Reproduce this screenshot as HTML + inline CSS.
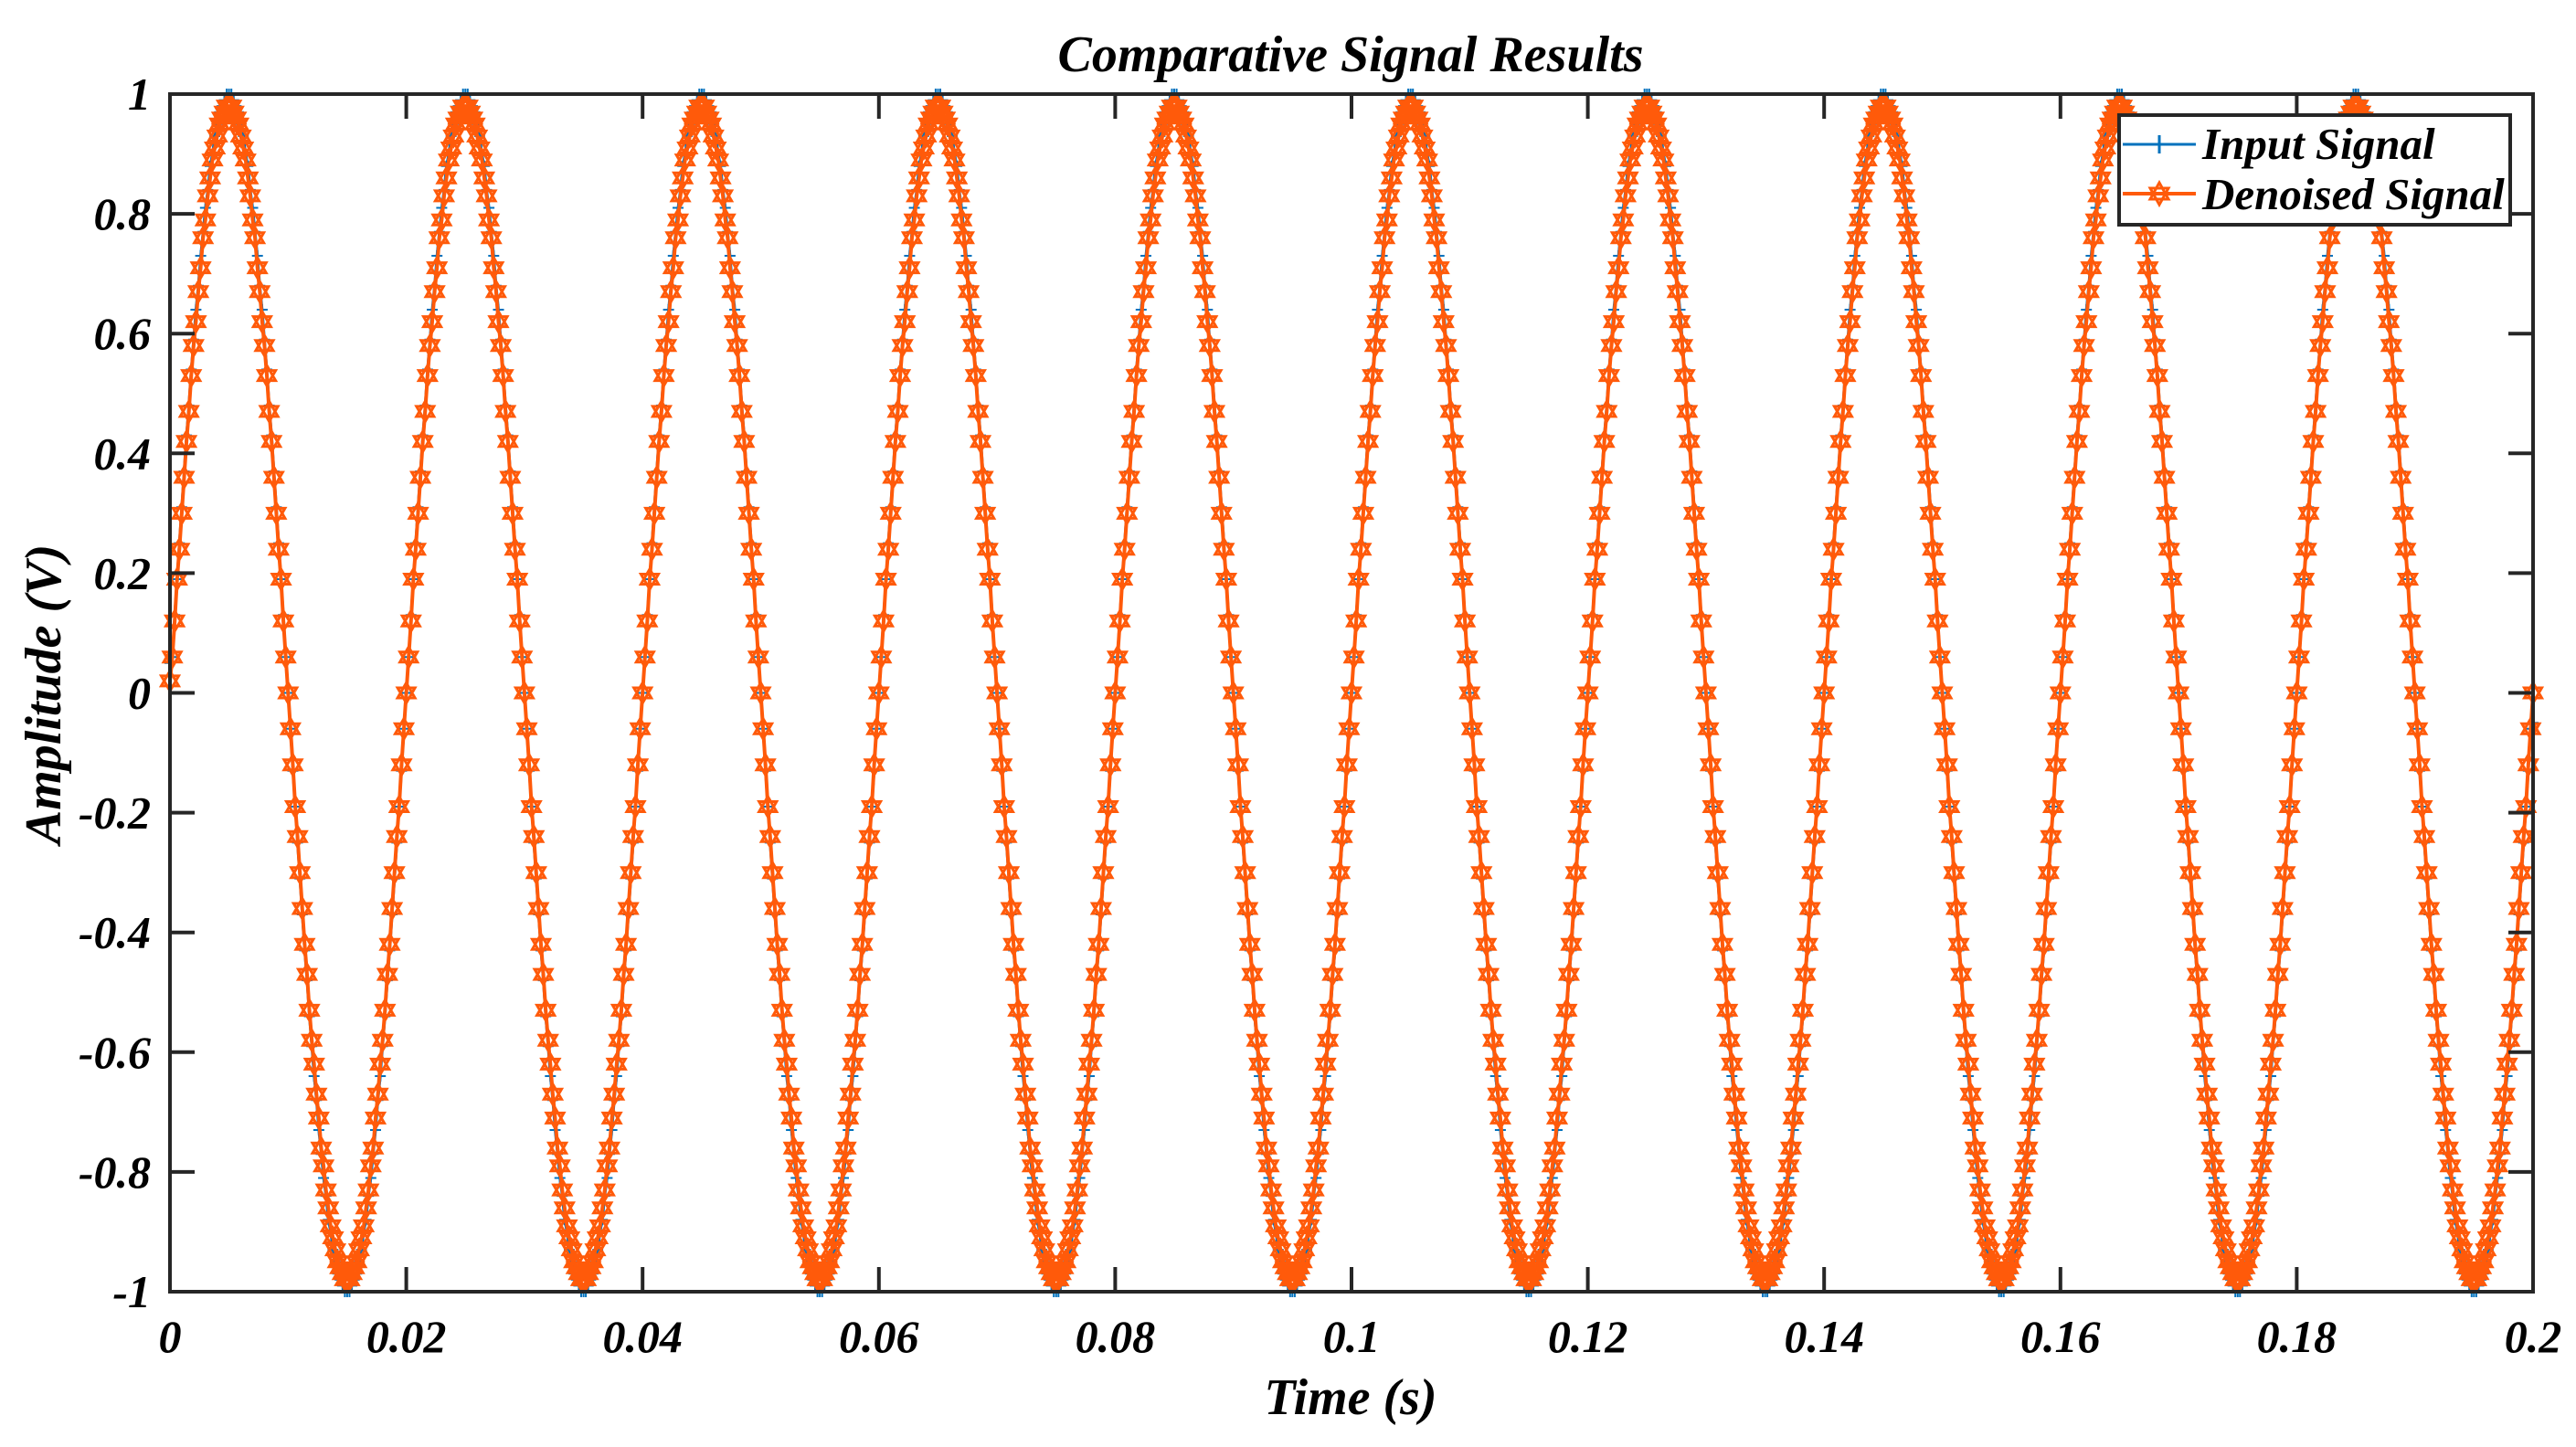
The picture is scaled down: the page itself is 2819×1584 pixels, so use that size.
<!DOCTYPE html>
<html><head><meta charset="utf-8"><style>
html,body{margin:0;padding:0;background:#fff;}
svg{display:block;}
text{font-family:"Liberation Serif",serif;font-weight:bold;font-style:italic;fill:#000;}
</style></head><body>
<svg id="chart" width="2819" height="1584" viewBox="0 0 2819 1584">
<rect width="2819" height="1584" fill="#fff"/>
<text x="1478" y="78" font-size="56" text-anchor="middle">Comparative Signal Results</text>
<text x="1478" y="1548" font-size="56" text-anchor="middle">Time (s)</text>
<text transform="translate(66,760) rotate(-90)" font-size="56" text-anchor="middle">Amplitude (V)</text>
<g id="plot"></g>
<g id="axes"></g>
<g id="legend">
<rect x="2319" y="126" width="428" height="120" fill="#fff" stroke="#262626" stroke-width="4"/>
<g>
<line x1="2323" y1="158" x2="2403" y2="158" stroke="#0072BD" stroke-width="3"/>
<line x1="2363" y1="148" x2="2363" y2="168" stroke="#0072BD" stroke-width="3"/>
<text x="2410" y="174" font-size="49">Input Signal</text>
</g>
<g>
<line x1="2323" y1="212" x2="2403" y2="212" stroke="#FF5A0A" stroke-width="4"/>
<path d="M2363,200 L2373,218 L2353,218 Z M2363,224 L2373,206 L2353,206 Z" fill="none" stroke="#FF5A0A" stroke-width="3"/>
<text x="2410" y="229" font-size="49">Denoised Signal</text>
</g>
</g>
</svg>
<script>
const xTicks=[0,0.02,0.04,0.06,0.08,0.1,0.12,0.14,0.16,0.18,0.2];
const xTickLabels=["0","0.02","0.04","0.06","0.08","0.1","0.12","0.14","0.16","0.18","0.2"];
const yTicks=[-1,-0.8,-0.6,-0.4,-0.2,0,0.2,0.4,0.6,0.8,1];
const yTickLabels=["-1","-0.8","-0.6","-0.4","-0.2","0","0.2","0.4","0.6","0.8","1"];
const sampleStep=0.0002;
const inputSignal=[0.05,
.06,.13,.19,.25,.31,.37,.43,.48,.54,.59,.64,.68,.73,.77,.81,.84,.88,.9,.93,.95,.97,.98,.99,1,1,1,.99,.98,.97,.95,.93,.9,.88,.84,.81,.77,.73,.68,.64,.59,.54,.48,.43,.37,.31,.25,.19,.13,.06,0,-.06,-.13,-.19,-.25,-.31,-.37,-.43,-.48,-.54,-.59,-.64,-.68,-.73,-.77,-.81,-.84,-.88,-.9,-.93,-.95,-.97,-.98,-.99,-1,-1,-1,-.99,-.98,-.97,-.95,-.93,-.9,-.88,-.84,-.81,-.77,-.73,-.68,-.64,-.59,-.54,-.48,-.43,-.37,-.31,-.25,-.19,-.13,-.06,0,
.06,.13,.19,.25,.31,.37,.43,.48,.54,.59,.64,.68,.73,.77,.81,.84,.88,.9,.93,.95,.97,.98,.99,1,1,1,.99,.98,.97,.95,.93,.9,.88,.84,.81,.77,.73,.68,.64,.59,.54,.48,.43,.37,.31,.25,.19,.13,.06,0,-.06,-.13,-.19,-.25,-.31,-.37,-.43,-.48,-.54,-.59,-.64,-.68,-.73,-.77,-.81,-.84,-.88,-.9,-.93,-.95,-.97,-.98,-.99,-1,-1,-1,-.99,-.98,-.97,-.95,-.93,-.9,-.88,-.84,-.81,-.77,-.73,-.68,-.64,-.59,-.54,-.48,-.43,-.37,-.31,-.25,-.19,-.13,-.06,0,
.06,.13,.19,.25,.31,.37,.43,.48,.54,.59,.64,.68,.73,.77,.81,.84,.88,.9,.93,.95,.97,.98,.99,1,1,1,.99,.98,.97,.95,.93,.9,.88,.84,.81,.77,.73,.68,.64,.59,.54,.48,.43,.37,.31,.25,.19,.13,.06,0,-.06,-.13,-.19,-.25,-.31,-.37,-.43,-.48,-.54,-.59,-.64,-.68,-.73,-.77,-.81,-.84,-.88,-.9,-.93,-.95,-.97,-.98,-.99,-1,-1,-1,-.99,-.98,-.97,-.95,-.93,-.9,-.88,-.84,-.81,-.77,-.73,-.68,-.64,-.59,-.54,-.48,-.43,-.37,-.31,-.25,-.19,-.13,-.06,0,
.06,.13,.19,.25,.31,.37,.43,.48,.54,.59,.64,.68,.73,.77,.81,.84,.88,.9,.93,.95,.97,.98,.99,1,1,1,.99,.98,.97,.95,.93,.9,.88,.84,.81,.77,.73,.68,.64,.59,.54,.48,.43,.37,.31,.25,.19,.13,.06,0,-.06,-.13,-.19,-.25,-.31,-.37,-.43,-.48,-.54,-.59,-.64,-.68,-.73,-.77,-.81,-.84,-.88,-.9,-.93,-.95,-.97,-.98,-.99,-1,-1,-1,-.99,-.98,-.97,-.95,-.93,-.9,-.88,-.84,-.81,-.77,-.73,-.68,-.64,-.59,-.54,-.48,-.43,-.37,-.31,-.25,-.19,-.13,-.06,0,
.06,.13,.19,.25,.31,.37,.43,.48,.54,.59,.64,.68,.73,.77,.81,.84,.88,.9,.93,.95,.97,.98,.99,1,1,1,.99,.98,.97,.95,.93,.9,.88,.84,.81,.77,.73,.68,.64,.59,.54,.48,.43,.37,.31,.25,.19,.13,.06,0,-.06,-.13,-.19,-.25,-.31,-.37,-.43,-.48,-.54,-.59,-.64,-.68,-.73,-.77,-.81,-.84,-.88,-.9,-.93,-.95,-.97,-.98,-.99,-1,-1,-1,-.99,-.98,-.97,-.95,-.93,-.9,-.88,-.84,-.81,-.77,-.73,-.68,-.64,-.59,-.54,-.48,-.43,-.37,-.31,-.25,-.19,-.13,-.06,0,
.06,.13,.19,.25,.31,.37,.43,.48,.54,.59,.64,.68,.73,.77,.81,.84,.88,.9,.93,.95,.97,.98,.99,1,1,1,.99,.98,.97,.95,.93,.9,.88,.84,.81,.77,.73,.68,.64,.59,.54,.48,.43,.37,.31,.25,.19,.13,.06,0,-.06,-.13,-.19,-.25,-.31,-.37,-.43,-.48,-.54,-.59,-.64,-.68,-.73,-.77,-.81,-.84,-.88,-.9,-.93,-.95,-.97,-.98,-.99,-1,-1,-1,-.99,-.98,-.97,-.95,-.93,-.9,-.88,-.84,-.81,-.77,-.73,-.68,-.64,-.59,-.54,-.48,-.43,-.37,-.31,-.25,-.19,-.13,-.06,0,
.06,.13,.19,.25,.31,.37,.43,.48,.54,.59,.64,.68,.73,.77,.81,.84,.88,.9,.93,.95,.97,.98,.99,1,1,1,.99,.98,.97,.95,.93,.9,.88,.84,.81,.77,.73,.68,.64,.59,.54,.48,.43,.37,.31,.25,.19,.13,.06,0,-.06,-.13,-.19,-.25,-.31,-.37,-.43,-.48,-.54,-.59,-.64,-.68,-.73,-.77,-.81,-.84,-.88,-.9,-.93,-.95,-.97,-.98,-.99,-1,-1,-1,-.99,-.98,-.97,-.95,-.93,-.9,-.88,-.84,-.81,-.77,-.73,-.68,-.64,-.59,-.54,-.48,-.43,-.37,-.31,-.25,-.19,-.13,-.06,0,
.06,.13,.19,.25,.31,.37,.43,.48,.54,.59,.64,.68,.73,.77,.81,.84,.88,.9,.93,.95,.97,.98,.99,1,1,1,.99,.98,.97,.95,.93,.9,.88,.84,.81,.77,.73,.68,.64,.59,.54,.48,.43,.37,.31,.25,.19,.13,.06,0,-.06,-.13,-.19,-.25,-.31,-.37,-.43,-.48,-.54,-.59,-.64,-.68,-.73,-.77,-.81,-.84,-.88,-.9,-.93,-.95,-.97,-.98,-.99,-1,-1,-1,-.99,-.98,-.97,-.95,-.93,-.9,-.88,-.84,-.81,-.77,-.73,-.68,-.64,-.59,-.54,-.48,-.43,-.37,-.31,-.25,-.19,-.13,-.06,0,
.06,.13,.19,.25,.31,.37,.43,.48,.54,.59,.64,.68,.73,.77,.81,.84,.88,.9,.93,.95,.97,.98,.99,1,1,1,.99,.98,.97,.95,.93,.9,.88,.84,.81,.77,.73,.68,.64,.59,.54,.48,.43,.37,.31,.25,.19,.13,.06,0,-.06,-.13,-.19,-.25,-.31,-.37,-.43,-.48,-.54,-.59,-.64,-.68,-.73,-.77,-.81,-.84,-.88,-.9,-.93,-.95,-.97,-.98,-.99,-1,-1,-1,-.99,-.98,-.97,-.95,-.93,-.9,-.88,-.84,-.81,-.77,-.73,-.68,-.64,-.59,-.54,-.48,-.43,-.37,-.31,-.25,-.19,-.13,-.06,0,
.06,.13,.19,.25,.31,.37,.43,.48,.54,.59,.64,.68,.73,.77,.81,.84,.88,.9,.93,.95,.97,.98,.99,1,1,1,.99,.98,.97,.95,.93,.9,.88,.84,.81,.77,.73,.68,.64,.59,.54,.48,.43,.37,.31,.25,.19,.13,.06,0,-.06,-.13,-.19,-.25,-.31,-.37,-.43,-.48,-.54,-.59,-.64,-.68,-.73,-.77,-.81,-.84,-.88,-.9,-.93,-.95,-.97,-.98,-.99,-1,-1,-1,-.99,-.98,-.97,-.95,-.93,-.9,-.88,-.84,-.81,-.77,-.73,-.68,-.64,-.59,-.54,-.48,-.43,-.37,-.31,-.25,-.19,-.13,-.06,-.05];
const denoisedSignal=[0.02,
.06,.12,.19,.24,.3,.36,.42,.47,.53,.58,.62,.67,.71,.76,.79,.83,.86,.89,.91,.93,.95,.96,.97,.98,.98,.98,.97,.96,.95,.93,.91,.89,.86,.83,.79,.76,.71,.67,.62,.58,.53,.47,.42,.36,.3,.24,.19,.12,.06,0,-.06,-.12,-.19,-.24,-.3,-.36,-.42,-.47,-.53,-.58,-.62,-.67,-.71,-.76,-.79,-.83,-.86,-.89,-.91,-.93,-.95,-.96,-.97,-.98,-.98,-.98,-.97,-.96,-.95,-.93,-.91,-.89,-.86,-.83,-.79,-.76,-.71,-.67,-.62,-.58,-.53,-.47,-.42,-.36,-.3,-.24,-.19,-.12,-.06,0,
.06,.12,.19,.24,.3,.36,.42,.47,.53,.58,.62,.67,.71,.76,.79,.83,.86,.89,.91,.93,.95,.96,.97,.98,.98,.98,.97,.96,.95,.93,.91,.89,.86,.83,.79,.76,.71,.67,.62,.58,.53,.47,.42,.36,.3,.24,.19,.12,.06,0,-.06,-.12,-.19,-.24,-.3,-.36,-.42,-.47,-.53,-.58,-.62,-.67,-.71,-.76,-.79,-.83,-.86,-.89,-.91,-.93,-.95,-.96,-.97,-.98,-.98,-.98,-.97,-.96,-.95,-.93,-.91,-.89,-.86,-.83,-.79,-.76,-.71,-.67,-.62,-.58,-.53,-.47,-.42,-.36,-.3,-.24,-.19,-.12,-.06,0,
.06,.12,.19,.24,.3,.36,.42,.47,.53,.58,.62,.67,.71,.76,.79,.83,.86,.89,.91,.93,.95,.96,.97,.98,.98,.98,.97,.96,.95,.93,.91,.89,.86,.83,.79,.76,.71,.67,.62,.58,.53,.47,.42,.36,.3,.24,.19,.12,.06,0,-.06,-.12,-.19,-.24,-.3,-.36,-.42,-.47,-.53,-.58,-.62,-.67,-.71,-.76,-.79,-.83,-.86,-.89,-.91,-.93,-.95,-.96,-.97,-.98,-.98,-.98,-.97,-.96,-.95,-.93,-.91,-.89,-.86,-.83,-.79,-.76,-.71,-.67,-.62,-.58,-.53,-.47,-.42,-.36,-.3,-.24,-.19,-.12,-.06,0,
.06,.12,.19,.24,.3,.36,.42,.47,.53,.58,.62,.67,.71,.76,.79,.83,.86,.89,.91,.93,.95,.96,.97,.98,.98,.98,.97,.96,.95,.93,.91,.89,.86,.83,.79,.76,.71,.67,.62,.58,.53,.47,.42,.36,.3,.24,.19,.12,.06,0,-.06,-.12,-.19,-.24,-.3,-.36,-.42,-.47,-.53,-.58,-.62,-.67,-.71,-.76,-.79,-.83,-.86,-.89,-.91,-.93,-.95,-.96,-.97,-.98,-.98,-.98,-.97,-.96,-.95,-.93,-.91,-.89,-.86,-.83,-.79,-.76,-.71,-.67,-.62,-.58,-.53,-.47,-.42,-.36,-.3,-.24,-.19,-.12,-.06,0,
.06,.12,.19,.24,.3,.36,.42,.47,.53,.58,.62,.67,.71,.76,.79,.83,.86,.89,.91,.93,.95,.96,.97,.98,.98,.98,.97,.96,.95,.93,.91,.89,.86,.83,.79,.76,.71,.67,.62,.58,.53,.47,.42,.36,.3,.24,.19,.12,.06,0,-.06,-.12,-.19,-.24,-.3,-.36,-.42,-.47,-.53,-.58,-.62,-.67,-.71,-.76,-.79,-.83,-.86,-.89,-.91,-.93,-.95,-.96,-.97,-.98,-.98,-.98,-.97,-.96,-.95,-.93,-.91,-.89,-.86,-.83,-.79,-.76,-.71,-.67,-.62,-.58,-.53,-.47,-.42,-.36,-.3,-.24,-.19,-.12,-.06,0,
.06,.12,.19,.24,.3,.36,.42,.47,.53,.58,.62,.67,.71,.76,.79,.83,.86,.89,.91,.93,.95,.96,.97,.98,.98,.98,.97,.96,.95,.93,.91,.89,.86,.83,.79,.76,.71,.67,.62,.58,.53,.47,.42,.36,.3,.24,.19,.12,.06,0,-.06,-.12,-.19,-.24,-.3,-.36,-.42,-.47,-.53,-.58,-.62,-.67,-.71,-.76,-.79,-.83,-.86,-.89,-.91,-.93,-.95,-.96,-.97,-.98,-.98,-.98,-.97,-.96,-.95,-.93,-.91,-.89,-.86,-.83,-.79,-.76,-.71,-.67,-.62,-.58,-.53,-.47,-.42,-.36,-.3,-.24,-.19,-.12,-.06,0,
.06,.12,.19,.24,.3,.36,.42,.47,.53,.58,.62,.67,.71,.76,.79,.83,.86,.89,.91,.93,.95,.96,.97,.98,.98,.98,.97,.96,.95,.93,.91,.89,.86,.83,.79,.76,.71,.67,.62,.58,.53,.47,.42,.36,.3,.24,.19,.12,.06,0,-.06,-.12,-.19,-.24,-.3,-.36,-.42,-.47,-.53,-.58,-.62,-.67,-.71,-.76,-.79,-.83,-.86,-.89,-.91,-.93,-.95,-.96,-.97,-.98,-.98,-.98,-.97,-.96,-.95,-.93,-.91,-.89,-.86,-.83,-.79,-.76,-.71,-.67,-.62,-.58,-.53,-.47,-.42,-.36,-.3,-.24,-.19,-.12,-.06,0,
.06,.12,.19,.24,.3,.36,.42,.47,.53,.58,.62,.67,.71,.76,.79,.83,.86,.89,.91,.93,.95,.96,.97,.98,.98,.98,.97,.96,.95,.93,.91,.89,.86,.83,.79,.76,.71,.67,.62,.58,.53,.47,.42,.36,.3,.24,.19,.12,.06,0,-.06,-.12,-.19,-.24,-.3,-.36,-.42,-.47,-.53,-.58,-.62,-.67,-.71,-.76,-.79,-.83,-.86,-.89,-.91,-.93,-.95,-.96,-.97,-.98,-.98,-.98,-.97,-.96,-.95,-.93,-.91,-.89,-.86,-.83,-.79,-.76,-.71,-.67,-.62,-.58,-.53,-.47,-.42,-.36,-.3,-.24,-.19,-.12,-.06,0,
.06,.12,.19,.24,.3,.36,.42,.47,.53,.58,.62,.67,.71,.76,.79,.83,.86,.89,.91,.93,.95,.96,.97,.98,.98,.98,.97,.96,.95,.93,.91,.89,.86,.83,.79,.76,.71,.67,.62,.58,.53,.47,.42,.36,.3,.24,.19,.12,.06,0,-.06,-.12,-.19,-.24,-.3,-.36,-.42,-.47,-.53,-.58,-.62,-.67,-.71,-.76,-.79,-.83,-.86,-.89,-.91,-.93,-.95,-.96,-.97,-.98,-.98,-.98,-.97,-.96,-.95,-.93,-.91,-.89,-.86,-.83,-.79,-.76,-.71,-.67,-.62,-.58,-.53,-.47,-.42,-.36,-.3,-.24,-.19,-.12,-.06,0,
.06,.12,.19,.24,.3,.36,.42,.47,.53,.58,.62,.67,.71,.76,.79,.83,.86,.89,.91,.93,.95,.96,.97,.98,.98,.98,.97,.96,.95,.93,.91,.89,.86,.83,.79,.76,.71,.67,.62,.58,.53,.47,.42,.36,.3,.24,.19,.12,.06,0,-.06,-.12,-.19,-.24,-.3,-.36,-.42,-.47,-.53,-.58,-.62,-.67,-.71,-.76,-.79,-.83,-.86,-.89,-.91,-.93,-.95,-.96,-.97,-.98,-.98,-.98,-.97,-.96,-.95,-.93,-.91,-.89,-.86,-.83,-.79,-.76,-.71,-.67,-.62,-.58,-.53,-.47,-.42,-.36,-.3,-.24,-.19,-.12,-.06,0];

const NS="http://www.w3.org/2000/svg";
const L=186,R=2772,T=103,B=1414;
const X0=0,X1=0.2,Y0=-1,Y1=1;
function xs(v){return L+(v-X0)/(X1-X0)*(R-L);}
function ys(v){return B-(v-Y0)/(Y1-Y0)*(B-T);}
function mk(tag,attrs,parent){const e=document.createElementNS(NS,tag);for(const k in attrs)e.setAttribute(k,attrs[k]);parent.appendChild(e);return e;}
const plot=document.getElementById('plot');
const axes=document.getElementById('axes');

let d='';
inputSignal.forEach((v,i)=>{d+=(i?'L':'M')+xs(i*sampleStep).toFixed(1)+','+ys(v).toFixed(1);});
const inLine=mk('path',{d:d,fill:'none',stroke:'#0072BD','stroke-width':3},plot);


let pm='';
inputSignal.forEach((v,i)=>{const x=xs(i*sampleStep),y=ys(v);pm+='M'+(x-6).toFixed(1)+','+y.toFixed(1)+'h12M'+x.toFixed(1)+','+(y-6).toFixed(1)+'v12';});
const inMarks=mk('path',{d:pm,fill:'none',stroke:'#0072BD','stroke-width':2},plot);



let d2='';
denoisedSignal.forEach((v,i)=>{d2+=(i?'L':'M')+xs(i*sampleStep).toFixed(1)+','+ys(v).toFixed(1);});
const dnLine=mk('path',{d:d2,fill:'none',stroke:'#FF5A0A','stroke-width':4},plot);


let hm='';
const r=11;
denoisedSignal.forEach((v,i)=>{const x=xs(i*sampleStep),y=ys(v);
 hm+='M'+x.toFixed(1)+','+(y-r).toFixed(1)+'L'+(x+r*0.866).toFixed(1)+','+(y+r*0.5).toFixed(1)+'L'+(x-r*0.866).toFixed(1)+','+(y+r*0.5).toFixed(1)+'Z';
 hm+='M'+x.toFixed(1)+','+(y+r).toFixed(1)+'L'+(x+r*0.866).toFixed(1)+','+(y-r*0.5).toFixed(1)+'L'+(x-r*0.866).toFixed(1)+','+(y-r*0.5).toFixed(1)+'Z';});
const dnMarks=mk('path',{d:hm,fill:'none',stroke:'#FF5A0A','stroke-width':3},plot);



const box=mk('rect',{x:L,y:T,width:R-L,height:B-T,fill:'none',stroke:'#262626','stroke-width':4},axes);


const tl=27;
xTicks.forEach((v,i)=>{const x=xs(v);
 const t=mk('path',{d:'M'+x+','+B+'v-'+tl+'M'+x+','+T+'v'+tl,stroke:'#262626','stroke-width':4},axes);
 
 
 const lb=mk('text',{x:x,y:1480,'font-size':50,'text-anchor':'middle'},axes);
 lb.textContent=xTickLabels[i];
 
 
});
yTicks.forEach((v,i)=>{const y=ys(v);
 const t=mk('path',{d:'M'+L+','+y+'h'+tl+'M'+R+','+y+'h-'+tl,stroke:'#262626','stroke-width':4},axes);
 
 
 const lb=mk('text',{x:165,y:y+17,'font-size':50,'text-anchor':'end'},axes);
 lb.textContent=yTickLabels[i];
 
 
});
</script>
</body></html>
